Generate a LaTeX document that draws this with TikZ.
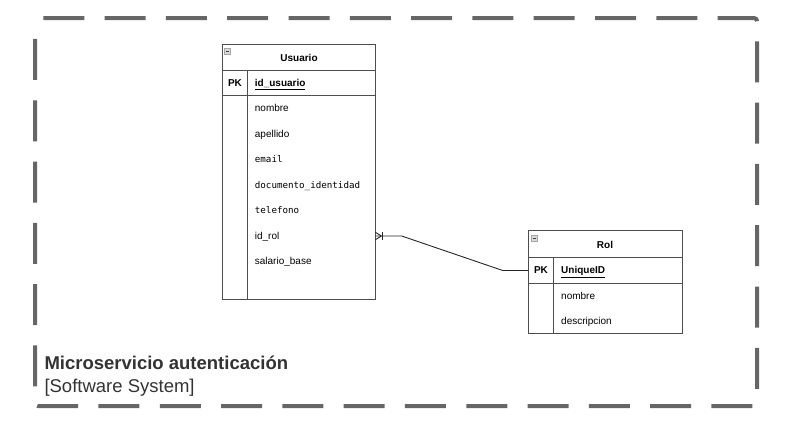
\documentclass[tikz,border=0pt]{standalone}
\usepackage{fontspec}
\setmainfont{Liberation Sans}
\newfontfamily\monof{DejaVu Sans Mono}
\usetikzlibrary{calc}
\definecolor{linegray}{HTML}{4D4D4D}
\definecolor{bordergray}{HTML}{666666}
\definecolor{titlegray}{HTML}{333333}
\tikzset{
  tbl/.style={draw=linegray, line width=1pt, inner sep=0pt, outer sep=0pt, anchor=north west},
  sepline/.style={draw=linegray, line width=1pt},
  fld/.style={anchor=mid west, inner sep=0pt, font=\fontsize{10}{12}\selectfont},
  mfld/.style={anchor=mid west, inner sep=0pt, font=\monof\fontsize{9.2}{11}\selectfont},
  hdr/.style={anchor=mid, inner sep=0pt, font=\bfseries\fontsize{10}{12}\selectfont},
  pkfld/.style={anchor=mid west, inner sep=0pt, font=\bfseries\fontsize{10}{12}\selectfont},
  minusicon/.style={draw=gray!70, fill=gray!30, line width=0.7pt, minimum size=6pt, inner sep=0pt,
    path picture={\draw[black!75, line width=1pt] ([xshift=1.2pt]path picture bounding box.west) -- ([xshift=-1.2pt]path picture bounding box.east);}},
  conn/.style={draw=black!85, line width=0.9pt},
  boundary/.style={draw=bordergray, line width=4pt, dash pattern=on 41pt off 20.3pt, dash phase=53pt, rounded corners=3pt},
  titletext/.style={anchor=base west, inner sep=0pt, text=titlegray},
}
\begin{document}
\begin{tikzpicture}[x=1pt,y=-1pt]
\useasboundingbox (0,0) rectangle (793,431);
% boundary
\draw[boundary] (35,18) -- (757,18) -- (757,406) -- (35,406) -- (35,35);

% Usuario table
\node[tbl, minimum width=153pt, minimum height=254.6pt] (usuario) at (222.3,44.7) {};
\draw[sepline] (usuario.west |- 0,70) -- (usuario.east |- 0,70);
\draw[sepline] (usuario.west |- 0,95.3) -- (usuario.east |- 0,95.3);
\draw[sepline] (247.7,70) -- (usuario.south -| 247.7,0);
\node[minusicon] (uicon) at (227.5,51.5) {};
\node[hdr] (uhdr) at (299,58.5) {Usuario};
\node[hdr] (upk) at (235,84) {PK};
\node[pkfld] (uid) at (254.7,84) {\underline{id\_usuario}};
\node[fld] (unombre) at (254.7,109.3) {nombre};
\node[fld] (uapellido) at (254.7,134.8) {apellido};
\node[mfld] (uemail) at (254.7,160.3) {email};
\node[mfld] (udoc) at (254.7,185.8) {documento\_identidad};
\node[mfld] (utel) at (254.7,211.3) {telefono};
\node[fld] (idrol) at (254.7,236.8) {id\_rol};
\node[fld] (usal) at (254.7,262.3) {salario\_base};

% Rol table
\node[tbl, minimum width=153.7pt, minimum height=102.6pt] (rol) at (528.3,230.7) {};
\draw[sepline] (rol.west |- 0,257.3) -- (rol.east |- 0,257.3);
\draw[sepline] (rol.west |- 0,283.3) -- (rol.east |- 0,283.3);
\draw[sepline] (553.7,257.3) -- (rol.south -| 553.7,0);
\node[minusicon] (ricon) at (534.5,238.5) {};
\node[hdr] (rhdr) at (605,245.5) {Rol};
\node[hdr] (rpk) at (541,271.2) {PK};
\node[pkfld] (rolpk) at (561,271.2) {\underline{UniqueID}};
\node[fld] (rnombre) at (561,296.8) {nombre};
\node[fld] (rdesc) at (561,322.3) {descripcion};

% connector
\coordinate (cs) at (226,236 -| usuario.east);
\coordinate (b1) at (401.7,236);
\coordinate (b2) at (502.7,270.5);
\coordinate (ce) at (rol.west |- b2);
\draw[conn] (cs) -- (b1) -- (b2) -- (ce);
% crow's foot (many) with bar (one)
\coordinate (cfp) at ($(cs)+(6,0)$);
\draw[conn] ($(cs)+(0,-3.8)$) -- (cfp) -- ($(cs)+(0,3.8)$);
\draw[conn] ($(cs)+(7.5,-3.6)$) -- ($(cs)+(7.5,3.6)$);

% title
\node[titletext, font=\bfseries\fontsize{18.5}{22}\selectfont] (title) at (44.3,369) {Microservicio autenticación};
\node[titletext, font=\fontsize{18.5}{22}\selectfont] (subtitle) at (44.3,392.5) {[Software System]};
\end{tikzpicture}
\end{document}
